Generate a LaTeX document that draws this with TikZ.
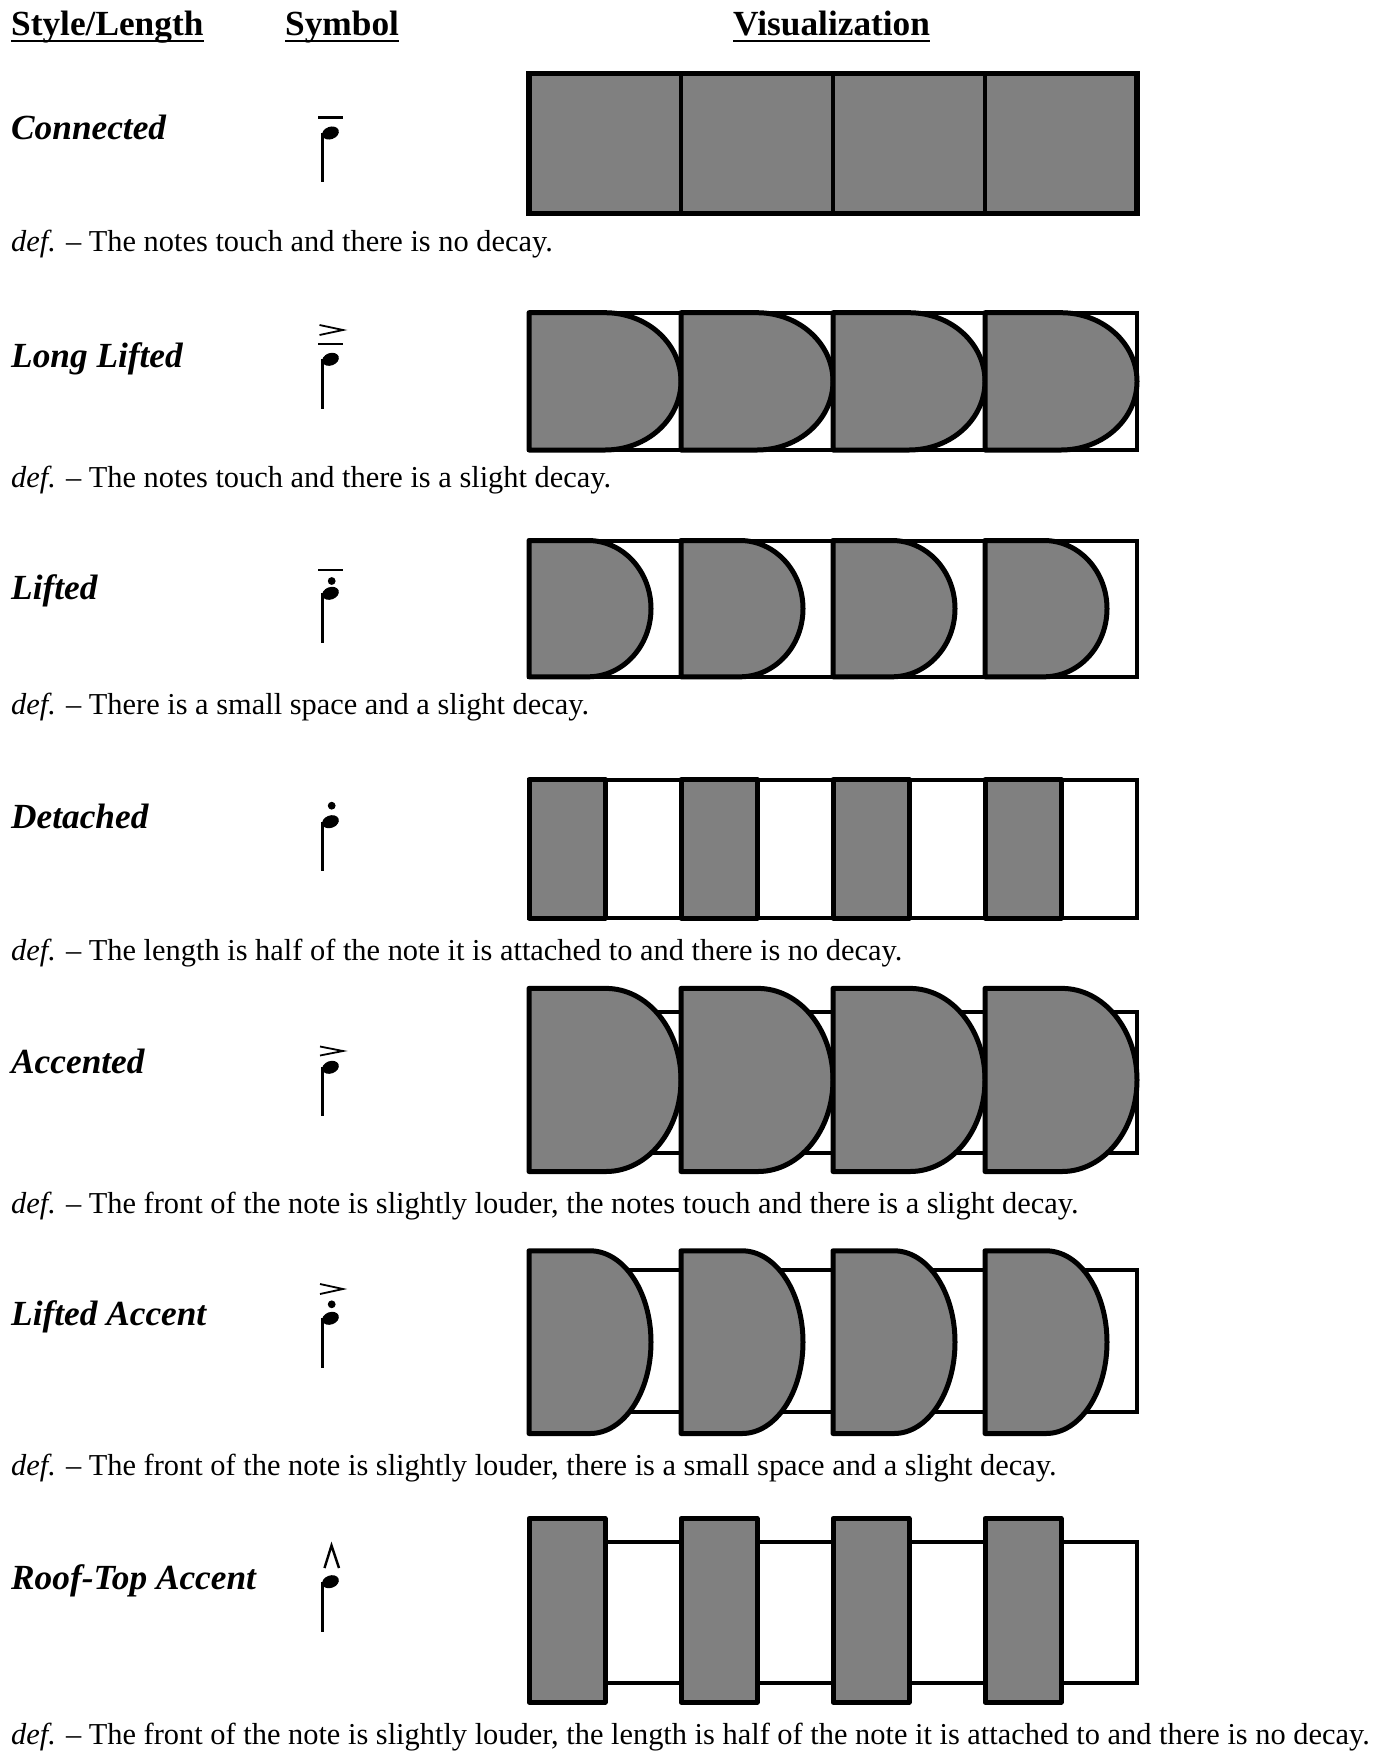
\documentclass[tikz,border=0pt]{standalone}
\usepackage{fontspec}
\setmainfont{Liberation Serif}
\usetikzlibrary{calc}
\definecolor{shade}{RGB}{128,128,128}
\begin{document}
\begin{tikzpicture}[x=1pt,y=-1pt,
  body/.style={inner sep=0pt, anchor=base west, font=\fontsize{30.4}{36}\selectfont},
  title/.style={inner sep=0pt, anchor=base west, font=\fontsize{35.3}{42}\selectfont\bfseries},
  stylename/.style={inner sep=0pt, anchor=base west, font=\fontsize{35.3}{42}\selectfont\bfseries\itshape},
  lane/.style={draw=black, fill=white, line width=4pt},
  tone/.style={draw=black, fill=shade, line width=5pt, line join=round},
  stem/.style={line width=2.6pt},
  mark line/.style={line width=2.6pt},
  accent line/.style={line width=1.8pt, line join=miter},
  uline/.style={line width=2.4pt}
]
\useasboundingbox (0,0) rectangle (1386,1751);

% headers
\node[title] (h1) at (11,35) {Style/Length};
\node[title] (h2) at (285,35) {Symbol};
\node[title] (h3) at (733,35) {Visualization};
\foreach \h in {h1,h2,h3}
  \draw[uline] ($(\h.base west)+(0,6)$) -- ($(\h.base east)+(0,6)$);

% style names
\node[stylename] (n1) at (11,139.5) {Connected};
\node[stylename] (n2) at (11,367.5) {Long Lifted};
\node[stylename] (n3) at (11,599.5) {Lifted};
\node[stylename] (n4) at (11,828.5) {Detached};
\node[stylename] (n5) at (11,1073) {Accented};
\node[stylename] (n6) at (11,1325.5) {Lifted Accent};
\node[stylename] (n7) at (11,1589) {Roof-Top Accent};

% definitions
\node[body] (d1) at (11,251) {\textit{def.} – The notes touch and there is no decay.};
\node[body] (d2) at (11,487) {\textit{def.} – The notes touch and there is a slight decay.};
\node[body] (d3) at (11,714.5) {\textit{def.} – There is a small space and a slight decay.};
\node[body] (d4) at (11,960) {\textit{def.} – The length is half of the note it is attached to and there is no decay.};
\node[body] (d5) at (11,1213) {\textit{def.} – The front of the note is slightly louder, the notes touch and there is a slight decay.};
\node[body] (d6) at (11,1475) {\textit{def.} – The front of the note is slightly louder, there is a small space and a slight decay.};
\node[body] (d7) at (11,1744) {\textit{def.} – The front of the note is slightly louder, the length is half of the note it is attached to and there is no decay.};

% ---------- symbols ----------
% notes: center y, stem bottom
\foreach \ny/\sb in {133/181.7, 359.3/409.3, 593.3/643.3, 821.7/871, 1067.3/1116, 1318.3/1368.3, 1581.7/1631.7}{
  \fill[rotate around={20:(330.5,\ny)}] (330.5,\ny) ellipse [x radius=8.6, y radius=6.2];
  \draw[stem] (322.6,\ny) -- (322.6,\sb);
}
% tenuto lines
\foreach \ty in {117.3, 344, 570}
  \draw[mark line] (318,\ty) -- (343,\ty);
% staccato dots
\foreach \dy in {581, 805.7, 1304.3}
  \fill (331.7,\dy) circle [radius=3.9];
% accents
\draw[accent line] (319.5,325) -- (343,330) -- (319.5,335);
\draw[accent line] (320,1046.5) -- (343,1051) -- (320,1055.5);
\draw[accent line] (320,1284) -- (343,1289) -- (320,1294);
% roof-top
\draw[line width=2.4pt, line join=miter] (324.5,1568) -- (331.5,1545.5) -- (339,1568);

% ---------- visualizations ----------
% Connected
\foreach \i in {0,...,3}
  \draw[draw=black, fill=shade, line width=3.6pt] ({529+152*\i},73.7) rectangle ({681+152*\i},213.3);
\draw[line width=5.5pt] (529,73.7) rectangle (1137,213.3);

% Long Lifted
\draw[lane] (529,312.7) rectangle (1137,450);
\foreach \i in {0,...,3}
  \draw[tone] ({529+152*\i},312.7) -- ({605+152*\i},312.7)
    arc[start angle=-90, end angle=90, x radius=76, y radius=68.65] -- ({529+152*\i},450) -- cycle;

% Lifted
\draw[lane] (529,540.5) rectangle (1137,676.8);
\foreach \i in {0,...,3}
  \draw[tone] ({529+152*\i},540.5) -- ({588+152*\i},540.5)
    arc[start angle=-90, end angle=90, x radius=63, y radius=68.15] -- ({529+152*\i},676.8) -- cycle;

% Detached
\draw[lane] (529,779.5) rectangle (1137,918);
\foreach \i in {0,...,3}
  \draw[tone] ({529+152*\i},779.5) rectangle ({605+152*\i},918);

% Accented
\draw[lane] (529,1011.8) rectangle (1137,1152.5);
\foreach \i in {0,...,3}
  \draw[tone] ({529+152*\i},988.4) -- ({606+152*\i},988.4)
    arc[start angle=-90, end angle=90, x radius=75, y radius=91.55] -- ({529+152*\i},1171.5) -- cycle;

% Lifted Accent
\draw[lane] (529,1269.5) rectangle (1137,1411.7);
\foreach \i in {0,...,3}
  \draw[tone] ({529+152*\i},1250.8) -- ({590+152*\i},1250.8)
    arc[start angle=-90, end angle=90, x radius=61, y radius=91.35] -- ({529+152*\i},1433.5) -- cycle;

% Roof-Top Accent
\draw[lane] (529,1542) rectangle (1137,1683);
\foreach \i in {0,...,3}
  \draw[tone] ({529+152*\i},1518.5) rectangle ({605+152*\i},1702);

\end{tikzpicture}
\end{document}
